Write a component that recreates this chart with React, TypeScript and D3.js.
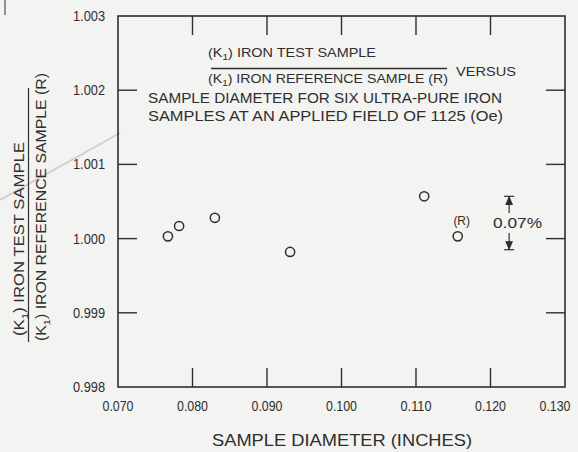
import React from "react";
import * as d3 from "d3";

// sample diameter (inches) vs K1 ratio
const diameters = [0.0767, 0.0782, 0.083, 0.0931, 0.1111, 0.1156];
const ratios = [1.00003, 1.00017, 1.00028, 0.99982, 1.00057, 1.00003];
const pointNotes = ["", "", "", "", "", "(R)"];

const xTicks = [0.07, 0.08, 0.09, 0.1, 0.11, 0.12, 0.13];
const xTickLabels = ["0.070", "0.080", "0.090", "0.100", "0.110", "0.120", "0.130"];
const yTicks = [0.998, 0.999, 1.0, 1.001, 1.002, 1.003];
const yTickLabels = ["0.998", "0.999", "1.000", "1.001", "1.002", "1.003"];

// spread marker
const spreadX = 0.1225;
const spreadRange = [0.99985, 1.00057];
const spreadLabel = "0.07%";

const W = 578;
const H = 452;
const ink = "#2e2e2e";
const textFont = "'Liberation Sans', 'DejaVu Sans', sans-serif";

const K1 = ({ size }: { size: number }) => (
  <>
    (K<tspan fontSize={size * 0.7} dy={size * 0.25}>1</tspan>
    <tspan dy={-size * 0.25}>)</tspan>
  </>
);

export default function App() {
  const x = d3.scaleLinear().domain([0.07, 0.13]).range([118, 565]);
  const y = d3.scaleLinear().domain([0.998, 1.003]).range([387, 16]);
  const [x0, x1] = x.range();
  const [yb, yt] = y.range();
  const tick = 19;

  const sx = x(spreadX);
  const sTop = y(spreadRange[1]);
  const sBot = y(spreadRange[0]);
  const sMid = (sTop + sBot) / 2;

  return (
    <svg width={W} height={H} style={{ position: "absolute", left: 0, top: 0, background: "#f3f3f1" }}>
      <rect width={W} height={H} fill="#f3f3f1" />
      {/* scan marks */}
      <line x1={5} y1={0} x2={5} y2={15} stroke="#555" strokeWidth={1.2} />
      <line x1={0} y1={200} x2={120} y2={133} stroke="#c8c8c8" strokeWidth={2} opacity={0.8} />

      {/* frame */}
      <rect x={x0} y={yt} width={x1 - x0} height={yb - yt} fill="none" stroke={ink} strokeWidth={1.6} />

      {/* x ticks, top and bottom, inward */}
      {xTicks.slice(1, -1).map((t) => (
        <g key={"xt" + t}>
          <line x1={x(t)} x2={x(t)} y1={yb} y2={yb - tick} stroke={ink} strokeWidth={1.4} />
          <line x1={x(t)} x2={x(t)} y1={yt} y2={yt + tick} stroke={ink} strokeWidth={1.4} />
        </g>
      ))}
      {xTicks.map((t, i) => (
        <text key={"xl" + t} x={Math.min(x(t), W - 23)} y={411} textAnchor="middle" fontFamily={textFont}
          fontSize={14.5} fill={ink} textLength={31} lengthAdjust="spacingAndGlyphs">{xTickLabels[i]}</text>
      ))}

      {/* y ticks, left and right, inward */}
      {yTicks.slice(1, -1).map((t) => (
        <g key={"yt" + t}>
          <line x1={x0} x2={x0 + tick} y1={y(t)} y2={y(t)} stroke={ink} strokeWidth={1.4} />
          <line x1={x1} x2={x1 - tick} y1={y(t)} y2={y(t)} stroke={ink} strokeWidth={1.4} />
        </g>
      ))}
      {yTicks.map((t, i) => (
        <text key={"yl" + t} x={105} y={y(t) + 5} textAnchor="end" fontFamily={textFont}
          fontSize={14.5} fill={ink} textLength={32} lengthAdjust="spacingAndGlyphs">{yTickLabels[i]}</text>
      ))}

      {/* points */}
      {diameters.map((d, i) => (
        <g key={"p" + i}>
          <circle cx={x(d)} cy={y(ratios[i])} r={4.6} fill="none" stroke={ink} strokeWidth={1.5} />
          {pointNotes[i] && (
            <text x={x(d) + 4} y={y(ratios[i]) - 11} textAnchor="middle" fontFamily={textFont}
              fontSize={12} fill={ink}>{pointNotes[i]}</text>
          )}
        </g>
      ))}

      {/* spread bar */}
      <g stroke={ink} strokeWidth={1.2} fill={ink}>
        <line x1={sx - 5} x2={sx + 5} y1={sTop} y2={sTop} />
        <line x1={sx - 5} x2={sx + 5} y1={sBot} y2={sBot} />
        <line x1={sx} x2={sx} y1={sTop} y2={sMid - 10} />
        <line x1={sx} x2={sx} y1={sMid + 10} y2={sBot} />
        <path d={`M${sx},${sTop + 1}L${sx - 3},${sTop + 8}L${sx + 3},${sTop + 8}Z`} />
        <path d={`M${sx},${sBot - 1}L${sx - 3},${sBot - 8}L${sx + 3},${sBot - 8}Z`} />
      </g>
      <text x={493} y={sMid + 5} fontFamily={textFont} fontSize={14} fill={ink}
        textLength={49} lengthAdjust="spacingAndGlyphs">{spreadLabel}</text>

      {/* in-plot caption */}
      <g fontFamily={textFont} fill={ink}>
        <text x={208} y={57} fontSize={13} textLength={168} lengthAdjust="spacingAndGlyphs">
          <K1 size={13} /> IRON  TEST  SAMPLE
        </text>
        <line x1={211} x2={447} y1={68.5} y2={68.5} stroke={ink} strokeWidth={1.3} />
        <text x={208} y={83} fontSize={13} textLength={240} lengthAdjust="spacingAndGlyphs">
          <K1 size={13} /> IRON  REFERENCE  SAMPLE (R)
        </text>
        <text x={456} y={76} fontSize={13.5} textLength={60} lengthAdjust="spacingAndGlyphs">VERSUS</text>
        <text x={148} y={103} fontSize={14} textLength={354} lengthAdjust="spacingAndGlyphs">
          SAMPLE  DIAMETER  FOR  SIX  ULTRA-PURE  IRON
        </text>
        <text x={148} y={121} fontSize={14} textLength={355} lengthAdjust="spacingAndGlyphs">
          SAMPLES AT AN  APPLIED  FIELD  OF  1125   (Oe)
        </text>
      </g>

      {/* y axis title as a fraction */}
      <g fontFamily={textFont} fill={ink}>
        <text transform="translate(24,336) rotate(-90)" fontSize={14} textLength={194}
          lengthAdjust="spacingAndGlyphs">
          <K1 size={14} /> IRON  TEST  SAMPLE
        </text>
        <line x1={28.5} x2={28.5} y1={88} y2={342} stroke={ink} strokeWidth={1.2} />
        <text transform="translate(46,341) rotate(-90)" fontSize={14} textLength={268}
          lengthAdjust="spacingAndGlyphs">
          <K1 size={14} /> IRON  REFERENCE  SAMPLE  (R)
        </text>
      </g>

      {/* x axis title */}
      <text x={212} y={446} fontFamily={textFont} fontSize={17} fill={ink} textLength={260}
        lengthAdjust="spacingAndGlyphs">SAMPLE  DIAMETER  (INCHES)</text>
    </svg>
  );
}
